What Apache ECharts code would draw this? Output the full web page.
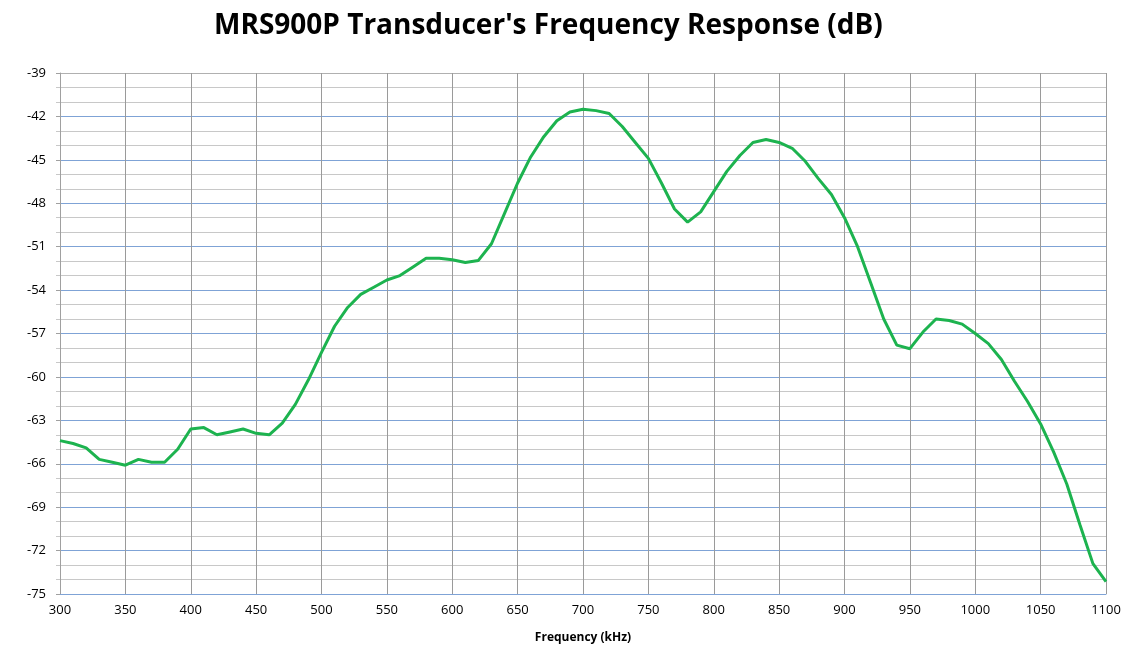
<!DOCTYPE html>
<html>
<head>
<meta charset="utf-8">
<script src="https://cdn.jsdelivr.net/npm/echarts@6/dist/echarts.min.js"></script>
<style>
  html, body { margin: 0; padding: 0; background: #fff; }
  #chart { width: 1132px; height: 655px; }
</style>
</head>
<body>
<div id="chart"></div>
<script>
// 频率 (kHz)，每 10 kHz 一个点
var freqs = [300, 310, 320, 330, 340, 350, 360, 370, 380, 390,
  400, 410, 420, 430, 440, 450, 460, 470, 480, 490,
  500, 510, 520, 530, 540, 550, 560, 570, 580, 590,
  600, 610, 620, 630, 640, 650, 660, 670, 680, 690,
  700, 710, 720, 730, 740, 750, 760, 770, 780, 790,
  800, 810, 820, 830, 840, 850, 860, 870, 880, 890,
  900, 910, 920, 930, 940, 950, 960, 970, 980, 990,
  1000, 1010, 1020, 1030, 1040, 1050, 1060, 1070, 1080, 1090, 1100];

// 响应 (dB)
var response = [-64.4, -64.6, -64.9, -65.7, -65.9, -66.1, -65.7, -65.9, -65.9, -65.0,
  -63.6, -63.5, -64.0, -63.8, -63.6, -63.9, -64.0, -63.2, -61.9, -60.2,
  -58.3, -56.5, -55.2, -54.3, -53.8, -53.3, -53.0, -52.4, -51.8, -51.8,
  -51.9, -52.1, -51.95, -50.8, -48.7, -46.6, -44.8, -43.4, -42.3, -41.7,
  -41.5, -41.6, -41.8, -42.7, -43.8, -44.9, -46.6, -48.4, -49.3, -48.6,
  -47.2, -45.8, -44.7, -43.8, -43.6, -43.8, -44.2, -45.1, -46.3, -47.4,
  -49.0, -51.0, -53.5, -56.0, -57.8, -58.05, -56.9, -56.0, -56.1, -56.35,
  -57.0, -57.7, -58.8, -60.3, -61.7, -63.25, -65.2, -67.4, -70.2, -72.9, -74.15];

var titleText = "MRS900P Transducer's Frequency Response (dB)";
var xName = 'Frequency (kHz)';

var chart = echarts.init(document.getElementById('chart'));

// 主网格线颜色：每 3 dB 蓝色，最上面 -39 是灰色
var majorColors = [];
for (var i = 0; i < 12; i++) majorColors.push('#7fa3d6');
majorColors.push('#b0b0b0');

var points = [];
for (var k = 0; k < freqs.length; k++) points.push([freqs[k], response[k]]);

var option = {
  animation: false,
  title: {
    text: titleText,
    left: 209,
    top: 7,
    textStyle: {
      fontFamily: 'Open Sans',
      fontWeight: 'bold',
      fontSize: 28,
      color: '#000'
    }
  },
  grid: {
    left: 60,
    right: 26,
    top: 73,
    bottom: 61
  },
  xAxis: {
    type: 'value',
    min: 300,
    max: 1100,
    interval: 50,
    name: xName,
    nameLocation: 'middle',
    nameGap: 38,
    nameTextStyle: {
      fontFamily: 'Open Sans',
      fontWeight: 'bold',
      fontSize: 12,
      color: '#000'
    },
    axisLine: { show: true, lineStyle: { color: '#7fa3d6', width: 1 } },
    axisTick: { show: false },
    axisLabel: {
      margin: 10,
      fontFamily: 'Open Sans',
      fontSize: 13,
      color: '#000',
      formatter: function (v) { return String(v); }
    },
    splitLine: { show: true, lineStyle: { color: '#9a9a9a', width: 1 } }
  },
  yAxis: {
    type: 'value',
    min: -75,
    max: -39,
    interval: 3,
    axisLine: { show: true, lineStyle: { color: '#a0a0a0', width: 1 } },
    axisTick: { show: true, length: 4, lineStyle: { color: '#a0a0a0' } },
    axisLabel: {
      margin: 14,
      fontFamily: 'Open Sans',
      fontSize: 13,
      color: '#000'
    },
    splitLine: { show: true, lineStyle: { color: majorColors, width: 1 } },
    minorTick: { show: true, splitNumber: 3, length: 4, lineStyle: { color: '#c8c8c8' } },
    minorSplitLine: { show: true, lineStyle: { color: '#c8c8c8', width: 1 } }
  },
  series: [
    {
      type: 'line',
      data: points,
      showSymbol: false,
      symbol: 'none',
      lineStyle: { color: '#1db34f', width: 3 },
      z: 5
    }
  ]
};

chart.setOption(option);
</script>
</body>
</html>
